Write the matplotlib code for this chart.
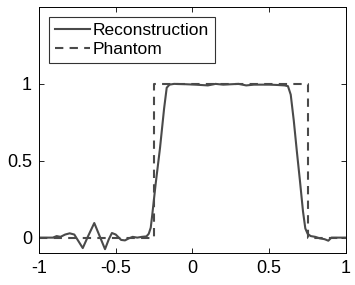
import matplotlib
matplotlib.use("Agg")
import matplotlib.pyplot as plt

plt.rcParams["font.family"] = ["Liberation Sans", "DejaVu Sans"]

# reconstruction profile
recon_x = [-1.0, -0.91, -0.885, -0.86, -0.83, -0.80, -0.77, -0.745, -0.715,
           -0.68, -0.64, -0.605, -0.57, -0.545, -0.525, -0.50, -0.465, -0.44,
           -0.415, -0.39, -0.36, -0.33, -0.30, -0.285, -0.272, -0.262, -0.24,
           -0.212, -0.185, -0.168, -0.15, -0.12, -0.05, 0.02, 0.1, 0.15, 0.2,
           0.3, 0.35, 0.4, 0.5, 0.55, 0.6, 0.622, 0.64, 0.66, 0.68, 0.70,
           0.72, 0.735, 0.75, 0.77, 0.80, 0.83, 0.86, 0.885, 0.905, 0.93, 1.0]
recon_y = [0, 0, 0.01, 0.005, 0.02, 0.028, 0.02, -0.02, -0.068,
           0.01, 0.095, 0.01, -0.075, -0.01, 0.03, 0.02, -0.015, -0.018,
           -0.005, 0.005, 0.0, 0.005, 0.008, 0.025, 0.065, 0.15, 0.35,
           0.58, 0.84, 0.975, 0.995, 1.0, 0.998, 0.995, 0.99, 1.0, 0.995,
           1.0, 0.99, 0.995, 0.995, 0.993, 0.99, 0.985, 0.93, 0.76, 0.56, 0.37,
           0.17, 0.06, 0.025, 0.01, 0.005, -0.005, -0.01, -0.02, 0.0, 0.0, 0.0]

# phantom: box from -0.25 to 0.75
phantom_x = [-1.0, -0.25, -0.25, 0.75, 0.75, 1.0]
phantom_y = [0, 0, 1, 1, 0, 0]

x_ticks = [-1, -0.5, 0, 0.5, 1]
x_labels = ["-1", "-0.5", "0", "0.5", "1"]
y_ticks = [0, 0.5, 1]
y_labels = ["0", "0.5", "1"]

line_col = "#4a4a4a"

fig = plt.figure(figsize=(3.55, 2.85), dpi=100)
ax = fig.add_axes([0.1099, 0.1123, 0.8647, 0.8631])

ax.plot(recon_x, recon_y, color=line_col, linewidth=1.5, label="Reconstruction")
ax.plot(phantom_x, phantom_y, color=line_col, linewidth=1.5,
        linestyle=(0, (4, 3)), label="Phantom")

ax.set_xlim(-1, 1)
ax.set_ylim(-0.1, 1.5)
ax.set_xticks(x_ticks)
ax.set_xticklabels(x_labels)
ax.set_yticks(y_ticks)
ax.set_yticklabels(y_labels)
ax.tick_params(direction="in", length=3.5, width=0.6, labelsize=13,
               top=True, right=True, pad=5)
for sp in ax.spines.values():
    sp.set_linewidth(0.7)

leg = ax.legend(loc="upper left", fontsize=12.5, frameon=True, fancybox=False,
                edgecolor="black", handlelength=2.0, handletextpad=0.15,
                borderpad=0.35, labelspacing=0.2, borderaxespad=0,
                bbox_to_anchor=(0.032, 0.96))
leg.get_frame().set_linewidth(0.8)

fig.savefig("out.png", dpi=100)
